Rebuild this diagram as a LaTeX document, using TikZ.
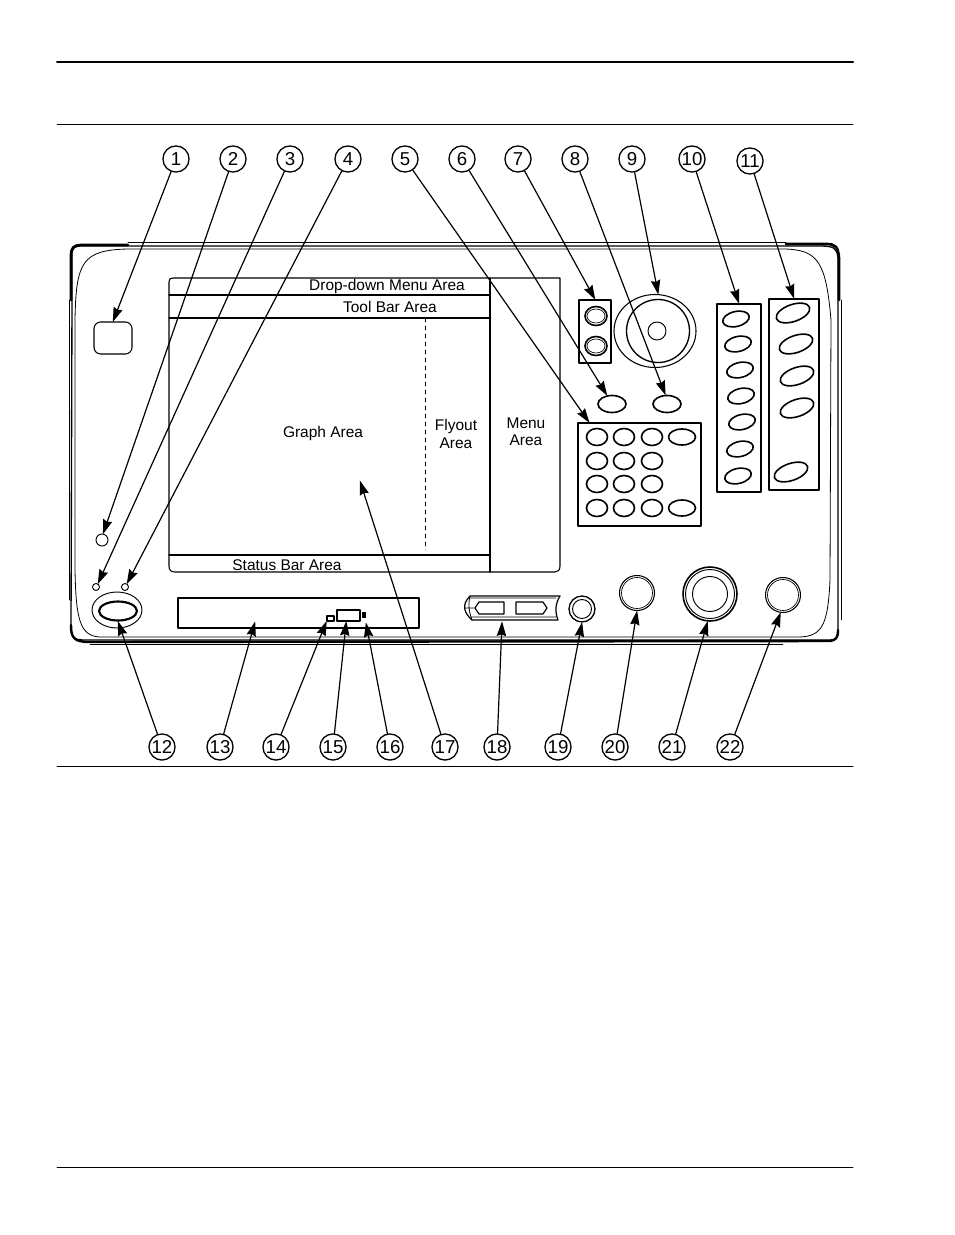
\documentclass[tikz,border=0pt]{standalone}
\usepackage{fontspec}
\setmainfont{Liberation Sans}
\usetikzlibrary{arrows.meta,shapes.geometric}
\tikzset{
	callout/.style={draw, circle, line width=1pt, minimum size=19.6pt, inner sep=0pt, font=\fontsize{14}{14}\selectfont},
	part/.style 2 args={draw, inner sep=0pt, minimum width=#1*.75pt, minimum height=#2*.75pt},
	key/.style 2 args={part={#1}{#2}, ellipse, line width=1.2pt},
	ring/.style={part={#1}{#1}, circle, line width=.7pt},
	area/.style={align=center, inner sep=0pt, font=\fontsize{11.6}{13}\selectfont},
	leader/.style={->, line width=.9pt, shorten >=-.5pt}
}
\begin{document}
\begin{tikzpicture}[x=.75pt, y=-.75pt, line join=round, line cap=round, >={Stealth[length=11pt,width=7pt,inset=1.2pt]}]
	\useasboundingbox (0,0) rectangle (954,1235);
	\draw[line width=1.5pt] (57,62)--(853,62);
	\foreach \y in {124,766,1167} \draw[line width=.7pt] (57,\y)--(853,\y);
	% case
	\draw[line width=1pt] (72,300)--(72,255) .. controls (72,248) and (74,246) .. (82,246)--(820,246) .. controls (834,246) and (837,248) .. (838,258)--(838,630) .. controls (838,638) and (836,640) .. (830,640)--(84,640) .. controls (74,640) and (71,637) .. (71,628)--cycle;
	\draw[line width=2pt] (71,300)--(71,256) .. controls (71,248) and (73,245) .. (82,245)--(128,245);
	\draw[line width=2pt] (786,244)--(826,244) .. controls (836,244) and (838,247) .. (839,258)--(839,300);
	\draw[line width=1.8pt] (838,630) .. controls (838,638) and (836,640) .. (830,641)--(90,642) .. controls (74,642) and (71,638) .. (71,625);
	\draw[line width=.6pt] (128,242)--(786,242);
	\draw[line width=.6pt] (69,300)--(69,600);
	\draw[line width=.6pt] (841,300)--(841,620);
	\draw[line width=.6pt] (90,644)--(783,644);
	\draw[line width=.6pt] (75,320) .. controls (76,262) and (82,250) .. (128,249)--(785,249) .. controls (818,250) and (826,262) .. (831,320)--(830,580) .. controls (828,625) and (822,636) .. (800,637)--(100,637) .. controls (80,636) and (76,620) .. (75,570)--cycle;
	% screen
	\draw[line width=.8pt] (173,278)--(560,278)--(560,566) .. controls (560,570) and (558,572) .. (555,572)--(175,572) .. controls (171,572) and (169,570) .. (169,566)--(169,282) .. controls (169,279) and (170,278) .. (173,278);
	\draw[line width=1pt] (169,295)--(490,295) (169,318)--(490,318) (169,555)--(490,555) (490,278)--(490,572);
	\draw[dashed, line width=.7pt] (425,318)--(425,550);
	\node[area] (menubar) at (387,286) {Drop-down Menu Area};
	\node[area] (toolbar) at (390,307) {Tool Bar Area};
	\node[area] (graph) at (323,433) {Graph Area};
	\node[area] (flyout) at (456,434) {Flyout\\Area};
	\node[area] (menu) at (526,432) {Menu\\Area};
	\node[area] (status) at (287,565) {Status Bar Area};
	% left column
	\node[part={38}{32}, rounded corners=5pt, line width=.8pt] (softkey) at (113,338) {};
	\node[ring=12] (led2) at (102,540) {};
	\node[ring=7] (led3) at (96,587) {};
	\node[ring=7] (led4) at (125,587) {};
	\node[key={50}{36}, line width=.7pt] (power) at (117,610) {};
	\node[key={38}{19}, line width=1.6pt] (powerin) at (118,611) {};
	% drive
	\node[part={241}{30}, line width=1.2pt] (tray) at (298.5,613) {};
	\node[part={7}{5}, line width=.8pt] (slot14) at (330.5,618.5) {};
	\node[part={23}{11}, line width=1pt] (slot15) at (348.5,615.5) {};
	\node[part={3}{5}, fill=black] (dot16) at (364,615) {};
	\coordinate (tip13) at (255,622);
	\coordinate (tip16) at (366,623);
	\coordinate (tip17) at (360,481);
	% right side
	\node[part={32}{63}, line width=1pt] (pair) at (595,331.5) {};
	\foreach \y/\m in {316/a,346/b} {
		\node[key={22}{19}] (pair\m) at (596,\y) {};
		\node[key={18}{14}, line width=.5pt] (pairin\m) at (596,\y) {};
	}
	\node[key={82}{73}, line width=.8pt] (knob) at (655,331) {};
	\node[ring=63, line width=1pt] (knobin) at (658,331) {};
	\node[ring=18] (hub) at (657,331) {};
	\node[key={28}{17}] (key6) at (612,404) {};
	\node[key={28}{17}] (key8) at (667,404) {};
	\node[part={123}{103}, line width=1pt] (keypad) at (639.5,474.5) {};
	\foreach \y in {437,461,484,508} \foreach \x in {597,624,652} \node[key={21}{17}] (pad\x\y) at (\x,\y) {};
	\foreach \y in {437,508} \node[key={27}{16}] (padw\y) at (682,\y) {};
	\node[part={44}{188}, line width=1pt] (col10) at (739,398) {};
	\foreach \x/\y [count=\i] in {736/319,738/344,740/370,741/396,742/422,740/449,738/476} \node[key={27}{15}, rotate=13] (keya\i) at (\x,\y) {};
	\node[part={50}{191}, line width=1pt] (col11) at (794,394.5) {};
	\foreach \x/\y [count=\i] in {793/313,796/344,797/376,797/408,791/472} \node[key={35}{17}, rotate=19] (keyb\i) at (\x,\y) {};
	% ports
	\draw[line width=.9pt] (470,596)--(560,596) .. controls (555,604) and (555,612) .. (558,620)--(472,620) .. controls (463,612) and (462,604) .. (470,596);
	\draw[line width=.6pt] (470,598)--(556,598) (472,617)--(556,617) (470,596) .. controls (468,604) and (469,612) .. (472,620) (464,608)--(475,608);
	\draw[line width=.9pt] (479,602)--(504,602)--(504,614)--(479,614)--(475,608)--cycle;
	\draw[line width=.9pt] (516,602)--(543,602)--(547,608)--(543,614)--(516,614)--cycle;
	\coordinate (tip18) at (502,622);
	\node[ring=26, line width=1pt] (jack) at (582,609) {};
	\node[ring=19] (jackin) at (582,609) {};
	\node[ring=35, line width=.8pt] (conn20) at (637,593) {};
	\node[ring=31, line width=.5pt] (conn20in) at (637,593) {};
	\node[ring=54, line width=1.2pt] (conn21) at (710,594) {};
	\node[ring=49] (conn21mid) at (710,594) {};
	\node[ring=35] (conn21in) at (710,594) {};
	\node[ring=35, line width=.8pt] (conn22) at (783,595) {};
	\node[ring=31, line width=.5pt] (conn22in) at (783,595) {};
	% callouts
	\foreach \n/\x in {1/176,2/233,3/290,4/348,5/405,6/462,7/518,8/575,9/632,10/692} \node[callout] (c\n) at (\x,159) {\n};
	\node[callout] (c11) at (750,161) {11};
	\foreach \n/\x in {12/162,13/220,14/276,15/333,16/390,17/445,18/497,19/558,20/615,21/672,22/730} \node[callout] (c\n) at (\x,747) {\n};
	\foreach \n/\t in {1/softkey.north,2/led2.80,3/led3.60,4/led4.60,5/keypad.134,6/key6.120,7/pair.north,8/key8.100,9/knob.85,10/col10.north,11/col11.north,12/powerin.south,13/tip13,14/slot14.south west,15/slot15.250,16/tip16,17/tip17,18/tip18,19/jack.south,20/conn20.south,21/conn21.265,22/conn22.262} \draw[leader] (c\n)--(\t);
\end{tikzpicture}
\end{document}
